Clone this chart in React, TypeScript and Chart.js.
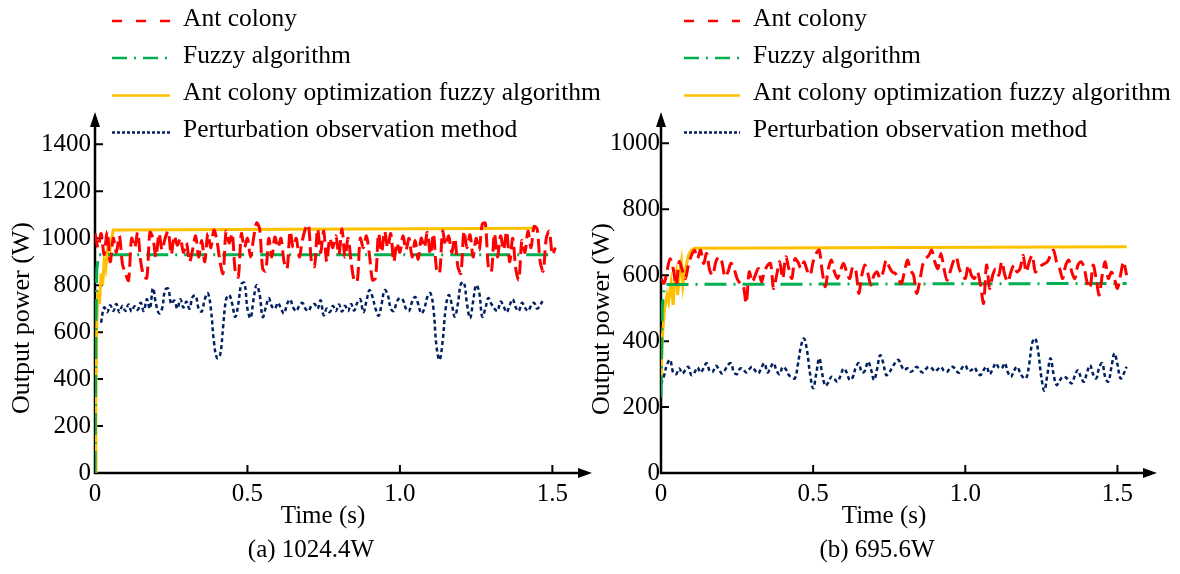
import React, { useEffect, useRef } from "react";
import { Chart, registerables } from "chart.js";

Chart.register(...registerables);

const FONT = "'Liberation Serif', 'Times New Roman', serif";

const seriesLabels = [
  "Ant colony",
  "Fuzzy algorithm",
  "Ant colony optimization fuzzy algorithm",
  "Perturbation observation method",
];
const seriesColors = ["#FF0000", "#00B050", "#FFC000", "#002060"];

const sampleStep = 0.01;

// ---------- Panel (a) 1024.4W ----------
const leftYTicks = [0, 200, 400, 600, 800, 1000, 1200, 1400];
const leftXTicks = [0, 0.5, 1.0, 1.5];

const leftAntStart = 0;
const leftAnt = [
  1020, 960, 1020, 930, 1030, 900, 1000, 940, 1010, 890,
  850, 820, 1000, 960, 1025, 900, 840, 830, 1025, 1000,
  920, 1020, 950, 1000, 1030, 930, 1010, 970, 1000, 940,
  980, 900, 950, 1010, 920, 990, 900, 1020, 960, 1035,
  990, 900, 850, 1030, 980, 1020, 860, 835, 1020, 960,
  1000, 920, 1000, 1065, 1040, 870, 860, 1000, 920, 1005,
  960, 1000, 900, 870, 1030, 960, 1000, 920, 990, 1040,
  1058, 900, 880, 1040, 940, 1030, 900, 1000, 960, 1010,
  930, 1040, 920, 1000, 900, 820, 815, 1000, 960, 1010,
  930, 822, 830, 1020, 940, 1030, 960, 1020, 900, 980,
  940, 1010, 950, 1000, 920, 990, 910, 1000, 960, 1025,
  930, 1020, 870, 850, 1030, 970, 1010, 940, 1000, 880,
  850, 1030, 960, 1015, 920, 1000, 950, 1060, 1065, 880,
  857, 1020, 920, 1010, 950, 1030, 900, 1000, 870, 822,
  990, 940, 1030, 960, 1050, 1040, 900, 860, 1000, 1030,
  930, 960,
];

const leftFuzzyTime = [0, 0.003, 0.006, 0.012, 1.51];
const leftFuzzy = [0, 650, 870, 930, 930];

const leftAcoTime = [0, 0.003, 0.006, 0.01, 0.015, 0.02, 0.025, 0.03, 0.035, 0.04, 0.045, 0.05, 0.055, 0.06, 1.45];
const leftAco = [0, 300, 650, 780, 720, 850, 800, 900, 870, 940, 920, 960, 1000, 1035, 1043];

const leftPoStart = 0.02;
const leftPo = [
  640, 705, 685, 715, 690, 720, 685, 712, 690, 718,
  688, 710, 695, 725, 690, 740, 700, 787, 720, 680,
  700, 780, 785, 720, 735, 700, 740, 705, 730, 700,
  750, 755, 700, 688, 740, 766, 700, 560, 490, 500,
  620, 740, 758, 720, 665, 720, 805, 810, 700, 660,
  740, 800, 760, 665, 705, 745, 710, 700, 725, 700,
  680, 720, 739, 705, 690, 712, 725, 700, 690, 712,
  720, 700, 735, 672, 700, 685, 712, 690, 718, 688,
  712, 690, 720, 692, 725, 740, 685, 730, 779, 750,
  700, 670, 720, 779, 760, 700, 690, 730, 745, 736,
  700, 690, 730, 750, 720, 680, 700, 750, 766, 700,
  540, 482, 560, 700, 758, 720, 666, 720, 805, 812,
  720, 660, 730, 800, 770, 666, 700, 745, 720, 700,
  690, 730, 710, 685, 715, 740, 705, 690, 725, 705,
  690, 712, 725, 700, 715, 740,
];

// ---------- Panel (b) 695.6W ----------
const rightYTicks = [0, 200, 400, 600, 800, 1000];
const rightXTicks = [0, 0.5, 1.0, 1.5];

const rightAntStart = 0;
const rightAnt = [
  590, 575, 615, 650, 620, 570, 641, 615, 590, 631,
  660, 676, 651, 676, 636, 666, 615, 600, 640, 656,
  641, 595, 610, 636, 620, 590, 575, 570, 515, 610,
  580, 600, 620, 580, 610, 630, 636, 560, 600, 641,
  590, 656, 620, 590, 650, 640, 620, 641, 615, 600,
  641, 666, 676, 610, 565, 620, 646, 610, 590, 615,
  636, 610, 590, 625, 615, 545, 600, 631, 605, 570,
  600, 610, 590, 610, 646, 625, 610, 605, 590, 575,
  610, 646, 615, 600, 545, 580, 631, 650, 660, 676,
  640, 620, 666, 620, 585, 610, 640, 656, 620, 600,
  590, 631, 600, 590, 610, 570, 515, 631, 560, 600,
  620, 600, 641, 600, 580, 610, 631, 610, 620, 660,
  610, 640, 660, 610, 620, 630, 635, 641, 660, 676,
  640, 620, 590, 630, 646, 610, 590, 630, 641, 625,
  580, 560, 631, 590, 540, 600, 641, 590, 610, 590,
  560, 600, 641, 600,
];

const rightFuzzyTime = [0, 0.004, 0.008, 0.015, 1.53];
const rightFuzzy = [230, 500, 545, 572, 575];

const rightAcoTime = [0, 0.005, 0.012, 0.02, 0.025, 0.033, 0.04, 0.045, 0.05, 0.055, 0.06, 0.067, 0.072, 0.078, 0.083, 0.09, 0.1, 0.11, 1.53];
const rightAco = [275, 420, 500, 540, 520, 575, 510, 590, 610, 540, 600, 641, 570, 610, 630, 660, 676, 682, 686];

const rightPoStart = 0;
const rightPo = [
  270, 295, 330, 343, 305, 300, 317, 302, 312, 322,
  297, 305, 320, 305, 318, 333, 310, 307, 325, 315,
  302, 312, 328, 333, 305, 300, 317, 315, 305, 315,
  322, 310, 302, 320, 333, 305, 320, 333, 310, 300,
  322, 315, 297, 290, 287, 330, 385, 408, 370, 300,
  257, 300, 348, 300, 265, 275, 292, 285, 277, 295,
  317, 305, 282, 290, 320, 333, 305, 310, 338, 315,
  282, 315, 357, 335, 297, 305, 320, 335, 343, 325,
  312, 318, 307, 312, 322, 312, 305, 315, 322, 318,
  308, 315, 322, 310, 307, 318, 322, 310, 304, 320,
  327, 310, 312, 320, 305, 297, 312, 322, 300, 315,
  333, 320, 318, 333, 305, 292, 310, 322, 305, 290,
  287, 330, 395, 408, 365, 290, 250, 300, 348, 300,
  267, 280, 292, 290, 280, 272, 295, 312, 290, 277,
  305, 327, 300, 287, 320, 333, 290, 277, 320, 363,
  330, 287, 300, 322,
];

// ---------- helpers ----------
function sampled(start: number, values: number[]) {
  return values.map((v, i) => ({ x: +(start + i * sampleStep).toFixed(4), y: v }));
}
function paired(times: number[], values: number[]) {
  return values.map((v, i) => ({ x: times[i], y: v }));
}

const plotDash = [[14, 6], [22, 7, 2, 7], [], [4, 3]];
const legendDash = [[10, 14], [15, 7, 2, 7], [], [3, 2]];
const lineWidths = [3, 3, 3, 2.5];
const tensions = [0.3, 0, 0, 0.4];

type PanelCfg = {
  yWidth: number;
  rightPad: number;
  yMax: number;
  xMax: number;
  yTicks: number[];
  xTicks: number[];
  yTickPad: number;
  series: { x: number; y: number }[][];
  legendLine: [number, number];
  legendText: number;
  legendRows: number[];
  yTitlePos: [number, number];
  xTitlePos: [number, number];
  caption: string;
  captionPos: [number, number];
};

function makeChart(canvas: HTMLCanvasElement, cfg: PanelCfg) {
  const axisPlugin = {
    id: "axesArrows",
    beforeDatasetsDraw(chart: any) {
      const { ctx, chartArea: a, scales } = chart;
      ctx.save();
      ctx.strokeStyle = "#000";
      ctx.fillStyle = "#000";
      ctx.lineWidth = 2.5;
      ctx.beginPath();
      ctx.moveTo(a.left, a.bottom + 1.2);
      ctx.lineTo(a.left, a.top + 8);
      ctx.moveTo(a.left - 1.2, a.bottom);
      ctx.lineTo(a.right - 8, a.bottom);
      ctx.stroke();
      ctx.beginPath();
      ctx.moveTo(a.left, a.top - 3);
      ctx.lineTo(a.left - 5, a.top + 12);
      ctx.lineTo(a.left + 5, a.top + 12);
      ctx.closePath();
      ctx.fill();
      ctx.beginPath();
      ctx.moveTo(a.right, a.bottom);
      ctx.lineTo(a.right - 14, a.bottom - 5);
      ctx.lineTo(a.right - 14, a.bottom + 5);
      ctx.closePath();
      ctx.fill();
      ctx.lineWidth = 2;
      ctx.beginPath();
      cfg.yTicks.forEach((v) => {
        if (v === 0) return;
        const y = scales.y.getPixelForValue(v);
        ctx.moveTo(a.left, y);
        ctx.lineTo(a.left + 8, y);
      });
      cfg.xTicks.forEach((v) => {
        if (v === 0) return;
        const x = scales.x.getPixelForValue(v);
        ctx.moveTo(x, a.bottom);
        ctx.lineTo(x, a.bottom - 8);
      });
      ctx.stroke();
      ctx.restore();
    },
    afterDraw(chart: any) {
      const { ctx } = chart;
      ctx.save();
      ctx.fillStyle = "#000";
      ctx.textBaseline = "middle";
      ctx.font = `25.5px ${FONT}`;
      chart.data.datasets.forEach((ds: any, i: number) => {
        const y = cfg.legendRows[i];
        ctx.save();
        ctx.strokeStyle = ds.borderColor;
        ctx.lineWidth = 2.5;
        ctx.setLineDash(legendDash[i]);
        ctx.beginPath();
        ctx.moveTo(cfg.legendLine[0], y + 2);
        ctx.lineTo(cfg.legendLine[1], y + 2);
        ctx.stroke();
        ctx.restore();
        ctx.textAlign = "left";
        ctx.fillText(ds.label, cfg.legendText, y);
      });
      ctx.font = `25px ${FONT}`;
      ctx.textAlign = "center";
      ctx.fillText("Time (s)", cfg.xTitlePos[0], cfg.xTitlePos[1]);
      ctx.fillText(cfg.caption, cfg.captionPos[0], cfg.captionPos[1]);
      ctx.save();
      ctx.font = `26px ${FONT}`;
      ctx.translate(cfg.yTitlePos[0], cfg.yTitlePos[1]);
      ctx.rotate(-Math.PI / 2);
      ctx.fillText("Output power (W)", 0, 0);
      ctx.restore();
      ctx.restore();
    },
  };

  return new Chart(canvas, {
    type: "line",
    data: {
      datasets: cfg.series.map((data, i) => ({
        label: seriesLabels[i],
        data,
        borderColor: seriesColors[i],
        backgroundColor: seriesColors[i],
        borderWidth: lineWidths[i],
        borderDash: plotDash[i],
        tension: tensions[i],
        pointRadius: 0,
        fill: false,
      })),
    },
    options: {
      animation: false,
      responsive: false,
      devicePixelRatio: 1,
      layout: { padding: { left: 0, top: 115, right: cfg.rightPad, bottom: 0 } },
      plugins: { legend: { display: false }, tooltip: { enabled: false } },
      scales: {
        x: {
          type: "linear",
          min: 0,
          max: cfg.xMax,
          grid: { display: false, drawTicks: false },
          border: { display: false },
          afterBuildTicks: (s: any) => {
            s.ticks = cfg.xTicks.map((v) => ({ value: v }));
          },
          afterFit: (s: any) => {
            s.height = 574 - 473;
          },
          ticks: {
            padding: 6,
            color: "#000",
            font: { family: FONT, size: 25 },
            callback: (v: any) => (Number(v) === 0 ? "0" : Number(v).toFixed(1)),
          },
        },
        y: {
          type: "linear",
          min: 0,
          max: cfg.yMax,
          grid: { display: false, drawTicks: false },
          border: { display: false },
          afterBuildTicks: (s: any) => {
            s.ticks = cfg.yTicks.map((v) => ({ value: v }));
          },
          afterFit: (s: any) => {
            s.width = cfg.yWidth;
          },
          ticks: {
            padding: cfg.yTickPad,
            color: "#000",
            font: { family: FONT, size: 25 },
            callback: (v: any) => String(v),
          },
        },
      },
    },
    plugins: [axisPlugin],
  } as any);
}

export default function App() {
  const leftRef = useRef<HTMLCanvasElement>(null);
  const rightRef = useRef<HTMLCanvasElement>(null);

  useEffect(() => {
    const left = makeChart(leftRef.current!, {
      yWidth: 95,
      rightPad: 610 - 592,
      yMax: 1525,
      xMax: 1.63,
      yTicks: leftYTicks,
      xTicks: leftXTicks,
      yTickPad: 4,
      series: [
        sampled(leftAntStart, leftAnt),
        paired(leftFuzzyTime, leftFuzzy),
        paired(leftAcoTime, leftAco),
        sampled(leftPoStart, leftPo),
      ],
      legendLine: [112, 170],
      legendText: 183,
      legendRows: [19, 56, 93.5, 130.5],
      yTitlePos: [22, 318],
      xTitlePos: [323, 516],
      caption: "(a) 1024.4W",
      captionPos: [311, 550],
    });
    const right = makeChart(rightRef.current!, {
      yWidth: 81,
      rightPad: 600 - 577,
      yMax: 1086,
      xMax: 1.63,
      yTicks: rightYTicks,
      xTicks: rightXTicks,
      yTickPad: 1,
      series: [
        sampled(rightAntStart, rightAnt),
        paired(rightFuzzyTime, rightFuzzy),
        paired(rightAcoTime, rightAco),
        sampled(rightPoStart, rightPo),
      ],
      legendLine: [104, 160],
      legendText: 173,
      legendRows: [19, 56, 93.5, 130.5],
      yTitlePos: [22, 319],
      xTitlePos: [304, 516],
      caption: "(b) 695.6W",
      captionPos: [297, 550],
    });
    return () => {
      left.destroy();
      right.destroy();
    };
  }, []);

  return (
    <div style={{ position: "absolute", left: 0, top: 0, width: 1180, height: 574, background: "#fff", overflow: "hidden" }}>
      <canvas ref={leftRef} width={610} height={574} style={{ position: "absolute", left: 0, top: 0 }} />
      <canvas ref={rightRef} width={600} height={574} style={{ position: "absolute", left: 580, top: 0 }} />
    </div>
  );
}
